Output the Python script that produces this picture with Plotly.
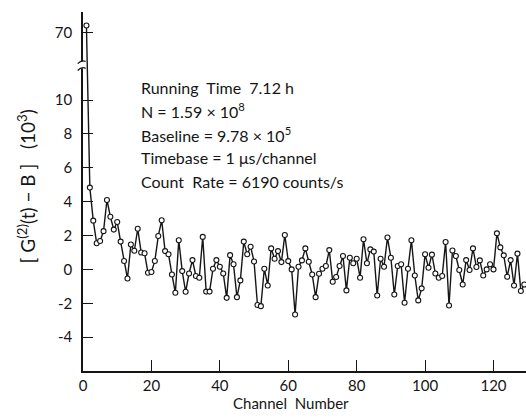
import plotly.graph_objects as go

# ---- data ----
channels = list(range(1, 130))
g2_minus_b = [  # [G(2)(t) - B] in units of 10^3
    70.4, 4.83, 2.88, 1.54, 1.68, 2.26, 4.10, 3.11, 2.35, 2.80,
    1.64, 0.50, -0.54, 1.47, 1.10, 2.40, 1.00, 0.95, -0.20, -0.15,
    0.50, 1.97, 2.90, 1.08, 0.89, -0.30, -1.38, 1.72, -0.10, -1.32,
    -0.24, 0.55, -0.39, -0.49, 1.92, -1.31, -1.31, 0.04, 0.55, 0.16,
    -0.24, -1.68, 0.84, 0.30, -1.64, -0.65, 1.64, 0.89, 1.34, 0.47,
    -2.10, -2.17, 0.04, -0.95, 1.24, 0.63, 1.08, 0.43, 2.03, 0.49,
    0.00, -2.66, 0.16, 0.53, 1.24, 0.45, -0.30, -1.64, -0.26, 0.04,
    0.20, 1.14, -0.73, -0.45, 0.20, 0.79, -1.24, 0.69, 0.36, 0.63,
    -0.49, 1.78, 0.36, 1.18, 1.05, -1.54, 0.63, 0.16, 1.88, 0.69,
    -1.48, 0.20, 0.30, -1.97, 0.04, 1.72, -0.36, -1.83, -1.12, 0.89,
    0.10, 0.87, -0.24, -0.49, -0.39, 1.62, -2.13, 1.12, 0.79, -0.04,
    -0.89, 0.55, -0.04, 1.24, 0.14, 0.53, -0.36, 0.00, 0.30, 0.00,
    2.13, 1.30, 0.83, -0.43, 0.55, -0.95, 0.93, -1.28, -0.89,
]
x_ticks = [0, 20, 40, 60, 80, 100, 120]
y_tick_values = [-4, -2, 0, 2, 4, 6, 8, 10, 70]
y_tick_labels = ["-4", "-2", "0", "2", "4", "6", "8", "10", "70"]

info_lines = [
    "Running  Time  7.12 h",
    "N = 1.59 × 10<sup>8</sup>",
    "Baseline = 9.78 × 10<sup>5</sup>",
    "Timebase = 1 μs/channel",
    "Count  Rate = 6190 counts/s",
]

# ---- broken y axis: values above the break are shifted down ----
BREAK_AT = 12
BREAK_SHIFT = 56


def to_axis(v):
    return v - BREAK_SHIFT if v > BREAK_AT else v


y_plot = [to_axis(v) for v in g2_minus_b]
ink = "#151515"
font = "Lato, 'DejaVu Sans', sans-serif"

fig = go.Figure()
fig.add_trace(go.Scatter(
    x=channels, y=y_plot, mode="lines+markers",
    line=dict(color=ink, width=1.4),
    marker=dict(symbol="circle", size=5, color="white",
                line=dict(color=ink, width=1.1)),
    showlegend=False, cliponaxis=True,
))

fig.update_layout(
    width=526, height=419,
    margin=dict(l=83, r=0, t=12, b=48),
    paper_bgcolor="white", plot_bgcolor="white",
    font=dict(family=font, color=ink, size=15),
    xaxis=dict(
        range=[0, 129.5], tickvals=x_ticks, ticks="inside", ticklen=11,
        tickwidth=1.3, tickcolor=ink, showline=True, linecolor=ink,
        linewidth=1.5, showgrid=False, zeroline=False,
        tickfont=dict(size=15), ticklabelstandoff=0,
    ),
    yaxis=dict(
        range=[-6, 15.2], tickvals=[to_axis(v) for v in y_tick_values],
        ticktext=y_tick_labels, ticks="inside", ticklen=10, tickwidth=1.3,
        tickcolor=ink, showline=True, linecolor=ink, linewidth=1.5,
        showgrid=False, zeroline=False, tickfont=dict(size=15),
        ticklabelstandoff=6,
    ),
)

# x-axis title
fig.add_annotation(text="Channel  Number", xref="paper", yref="paper",
                   x=0.47, y=-0.09, showarrow=False, xanchor="center",
                   yanchor="middle", font=dict(size=15))
# y-axis title
fig.add_annotation(text="[ G<sup>(2)</sup>(t) − B ]   (10<sup>3</sup>)",
                   xref="paper", yref="paper", x=-0.128, y=0.515,
                   textangle=-90, showarrow=False, xanchor="center",
                   yanchor="middle", font=dict(size=19))

# info text block
line_y = [0.791, 0.727, 0.660, 0.596, 0.529]
for txt, yy in zip(info_lines, line_y):
    fig.add_annotation(text=txt, xref="paper", yref="paper", x=0.127, y=yy,
                       showarrow=False, xanchor="left", yanchor="middle",
                       font=dict(size=16))

# axis break symbol
fig.add_shape(type="rect", xref="paper", yref="paper", x0=-0.012, x1=0.006,
              y0=0.843, y1=0.862, fillcolor="white", line=dict(width=0),
              layer="above")
for y0 in (0.843, 0.862):
    fig.add_shape(type="path", xref="paper", yref="paper",
                  path=f"M -0.012,{y0 - 0.006} Q -0.003,{y0 + 0.006} 0.006,{y0}",
                  line=dict(color=ink, width=1.2), layer="above")

fig.write_html("out.html")
